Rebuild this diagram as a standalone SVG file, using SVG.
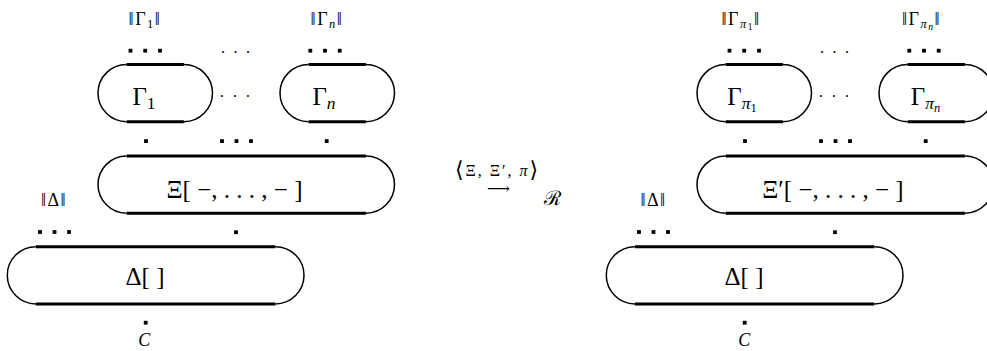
<svg xmlns="http://www.w3.org/2000/svg" width="987" height="351" viewBox="0 0 987 351">
<style>
.arc{fill:none;stroke:#000;stroke-width:1.5}
.edge{fill:none;stroke:#000;stroke-width:3}
.dot{fill:#000}
.t{font-family:"Liberation Serif","DejaVu Serif",serif;fill:#000;text-anchor:middle}
.big{font-size:25px}
.lab{font-size:18px;letter-spacing:1.5px}
.it{font-style:italic}
.sd{font-family:"Liberation Serif","DejaVu Serif",serif;font-size:16px;fill:#000;text-anchor:middle}
</style>
<rect width="987" height="351" fill="#fff"/>

<!-- LEFT SIDE -->
<g id="left-gamma1">
<path class="arc" d="M126.6 64.5A28.6 28.6 0 0 0 126.6 121.7M183.9 64.5A28.6 28.6 0 0 1 183.9 121.7"/>
<path class="edge" d="M126.6 64.5H183.9M126.6 121.7H183.9"/>
<text class="t big" x="144" y="105">Γ<tspan font-size="17.5" dy="4">1</tspan></text>
</g>
<g id="left-gamman">
<path class="arc" d="M308.6 64.5A28.6 28.6 0 0 0 308.6 121.7M365.9 64.5A28.6 28.6 0 0 1 365.9 121.7"/>
<path class="edge" d="M308.6 64.5H365.9M308.6 121.7H365.9"/>
<text class="t big" x="324" y="105">Γ<tspan class="it" font-size="17.5" dy="4">n</tspan></text>
</g>
<g id="left-xi">
<path class="arc" d="M126.6 156A28.6 28.6 0 0 0 126.6 213.2M365.9 156A28.6 28.6 0 0 1 365.9 213.2"/>
<path class="edge" d="M126.6 156H365.9M126.6 213.2H365.9"/>
<text class="t big" x="234.5" y="198">Ξ[ −, . . . , − ]</text>
</g>
<g id="left-delta">
<path class="arc" d="M35.9 246.7A28.6 28.6 0 0 0 35.9 303.9M275.4 246.7A28.6 28.6 0 0 1 275.4 303.9"/>
<path class="edge" d="M35.9 246.7H275.4M35.9 303.9H275.4"/>
<text class="t big" x="145" y="285">Δ[ ]</text>
</g>
<g id="left-labels">
<text class="t lab" x="145" y="25">‖Γ<tspan font-size="12.5" dy="3">1</tspan><tspan dy="-3">‖</tspan></text>
<text class="t lab" x="327" y="25">‖Γ<tspan class="it" font-size="12.5" dy="3">n</tspan><tspan dy="-3">‖</tspan></text>
<text class="t lab" x="54" y="206">‖Δ‖</text>
<text class="t lab it" x="145" y="346">C</text>
<text class="sd" x="223 235.5 248" y="53">...</text>
<text class="sd" x="222 235 248" y="102">···</text>
</g>
<g id="left-ports">
<rect class="dot" x="128.6" y="48.8" width="3.8" height="3.8"/>
<rect class="dot" x="143.3" y="48.8" width="3.8" height="3.8"/>
<rect class="dot" x="158.1" y="48.8" width="3.8" height="3.8"/>
<rect class="dot" x="308.4" y="48.8" width="3.8" height="3.8"/>
<rect class="dot" x="323.1" y="48.8" width="3.8" height="3.8"/>
<rect class="dot" x="337.8" y="48.8" width="3.8" height="3.8"/>
<rect class="dot" x="144.1" y="139.2" width="3.8" height="3.8"/>
<rect class="dot" x="220.1" y="139.2" width="3.8" height="3.8"/>
<rect class="dot" x="234.6" y="139.2" width="3.8" height="3.8"/>
<rect class="dot" x="249.1" y="139.2" width="3.8" height="3.8"/>
<rect class="dot" x="324.8" y="139.2" width="3.8" height="3.8"/>
<rect class="dot" x="234.1" y="230.3" width="3.8" height="3.8"/>
<rect class="dot" x="38.1" y="230.1" width="3.8" height="3.8"/>
<rect class="dot" x="52.6" y="230.1" width="3.8" height="3.8"/>
<rect class="dot" x="67.1" y="230.1" width="3.8" height="3.8"/>
<rect class="dot" x="143.8" y="320.8" width="3.8" height="3.8"/>
</g>

<!-- MIDDLE RELATION -->
<g id="relation">
<text class="t" font-size="16" x="496.5" y="176" textLength="83" lengthAdjust="spacing"><tspan font-size="22" dy="1">⟨</tspan><tspan dy="-1">Ξ, Ξ′, </tspan><tspan class="it">π</tspan><tspan font-size="22" dy="1">⟩</tspan></text>
<text class="t" font-size="16" x="498.5" y="194" textLength="23" lengthAdjust="spacingAndGlyphs">⟶</text>
<text class="t" font-size="20" x="552.5" y="205" font-family="DejaVu Sans, sans-serif">ℛ</text>
</g>

<!-- RIGHT SIDE -->
<g id="right-gamma1">
<path class="arc" d="M725.6 64.5A28.6 28.6 0 0 0 725.6 121.7M782.9 64.5A28.6 28.6 0 0 1 782.9 121.7"/>
<path class="edge" d="M725.6 64.5H782.9M725.6 121.7H782.9"/>
<text class="t big" x="742" y="105">Γ<tspan class="it" font-size="17.5" dy="4">π</tspan><tspan font-size="12.5" dy="3">1</tspan></text>
</g>
<g id="right-gamman">
<path class="arc" d="M907.6 64.5A28.6 28.6 0 0 0 907.6 121.7M964.9 64.5A28.6 28.6 0 0 1 964.9 121.7"/>
<path class="edge" d="M907.6 64.5H964.9M907.6 121.7H964.9"/>
<text class="t big" x="925.5" y="105">Γ<tspan class="it" font-size="17.5" dy="4">π</tspan><tspan class="it" font-size="12.5" dy="3">n</tspan></text>
</g>
<g id="right-xi">
<path class="arc" d="M725.6 156A28.6 28.6 0 0 0 725.6 213.2M964.9 156A28.6 28.6 0 0 1 964.9 213.2"/>
<path class="edge" d="M725.6 156H964.9M725.6 213.2H964.9"/>
<text class="t big" x="833" y="198">Ξ′[ −, . . . , − ]</text>
</g>
<g id="right-delta">
<path class="arc" d="M634.9 246.7A28.6 28.6 0 0 0 634.9 303.9M874.4 246.7A28.6 28.6 0 0 1 874.4 303.9"/>
<path class="edge" d="M634.9 246.7H874.4M634.9 303.9H874.4"/>
<text class="t big" x="744" y="285">Δ[ ]</text>
</g>
<g id="right-labels">
<text class="t lab" x="741" y="25">‖Γ<tspan class="it" font-size="12.5" dy="3">π</tspan><tspan font-size="9.5" dy="2">1</tspan><tspan dy="-5">‖</tspan></text>
<text class="t lab" x="921.5" y="25">‖Γ<tspan class="it" font-size="12.5" dy="3">π</tspan><tspan class="it" font-size="9.5" dy="2">n</tspan><tspan dy="-5">‖</tspan></text>
<text class="t lab" x="653.5" y="206">‖Δ‖</text>
<text class="t lab it" x="745" y="346">C</text>
<text class="sd" x="822 834.5 847" y="53">...</text>
<text class="sd" x="821 834 847" y="102">···</text>
</g>
<g id="right-ports">
<rect class="dot" x="727.6" y="48.8" width="3.8" height="3.8"/>
<rect class="dot" x="742.3" y="48.8" width="3.8" height="3.8"/>
<rect class="dot" x="757.1" y="48.8" width="3.8" height="3.8"/>
<rect class="dot" x="907.4" y="48.8" width="3.8" height="3.8"/>
<rect class="dot" x="922.1" y="48.8" width="3.8" height="3.8"/>
<rect class="dot" x="936.8" y="48.8" width="3.8" height="3.8"/>
<rect class="dot" x="743.1" y="139.2" width="3.8" height="3.8"/>
<rect class="dot" x="819.1" y="139.2" width="3.8" height="3.8"/>
<rect class="dot" x="833.6" y="139.2" width="3.8" height="3.8"/>
<rect class="dot" x="848.1" y="139.2" width="3.8" height="3.8"/>
<rect class="dot" x="923.8" y="139.2" width="3.8" height="3.8"/>
<rect class="dot" x="833.1" y="230.3" width="3.8" height="3.8"/>
<rect class="dot" x="637.1" y="230.1" width="3.8" height="3.8"/>
<rect class="dot" x="651.6" y="230.1" width="3.8" height="3.8"/>
<rect class="dot" x="666.1" y="230.1" width="3.8" height="3.8"/>
<rect class="dot" x="742.8" y="320.8" width="3.8" height="3.8"/>
</g>
</svg>
